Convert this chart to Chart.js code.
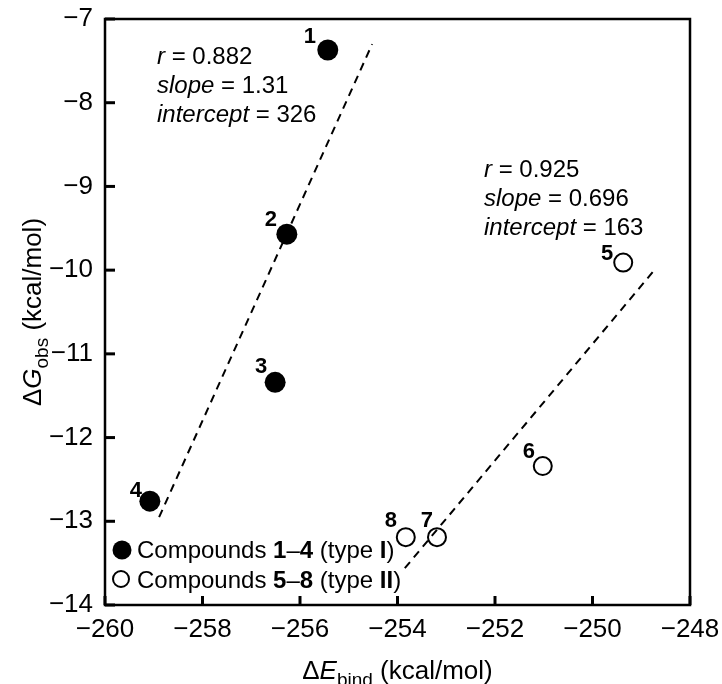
<!DOCTYPE html>
<html><head><meta charset="utf-8">
<script src="https://cdn.jsdelivr.net/npm/chart.js@4"></script>
<style>html,body{margin:0;padding:0;background:#fff}</style>
</head><body>
<canvas id="c" width="722" height="684"></canvas>
<script>
// ---- data ----
const typeI_x = [-255.43, -256.27, -256.51, -259.08];
const typeI_y = [-7.37, -9.57, -11.34, -12.76];
const typeI_labels = ['1', '2', '3', '4'];
const typeII_x = [-249.37, -251.02, -253.19, -253.83];
const typeII_y = [-9.91, -12.34, -13.19, -13.19];
const typeII_labels = ['5', '6', '7', '8'];
const fitI_x = [-258.89, -254.52];
const fitI_y = [-12.95, -7.30];
const fitII_x = [-253.85, -248.76];
const fitII_y = [-13.56, -10.02];
const xTicks = [-260, -258, -256, -254, -252, -250, -248];
const yTicks = [-14, -13, -12, -11, -10, -9, -8, -7];
const statsI = ['0.882', '1.31', '326'];
const statsII = ['0.925', '0.696', '163'];

// ---- styling (positions / offsets kept separate from data) ----
const FF = "'Liberation Sans', Arial, sans-serif";
const labelOffI = [[-18, -13], [-16, -14], [-14, -15], [-14, -10]];
const labelOffII = [[-16, -9], [-14, -14], [-10, -16], [-15, -16]];

const pts = (xs, ys) => xs.map((x, i) => ({ x: x, y: ys[i] }));
const minus = v => String(v).replace('-', '\u2212');

function drawRich(ctx, segs, x, y, align) {
  let total = 0;
  segs.forEach(s => { ctx.font = s.f; total += ctx.measureText(s.t).width; });
  let cx = align === 'center' ? x - total / 2 : x;
  ctx.textAlign = 'left';
  ctx.textBaseline = 'alphabetic';
  segs.forEach(s => {
    ctx.font = s.f;
    ctx.fillText(s.t, cx, y + (s.dy || 0));
    cx += ctx.measureText(s.t).width;
  });
}

const decor = {
  id: 'decor',
  afterDatasetsDraw(chart) {
    const ctx = chart.ctx;
    const a = chart.chartArea;
    const xs = chart.scales.x, ys = chart.scales.y;
    ctx.save();
    ctx.fillStyle = '#000';
    ctx.strokeStyle = '#000';

    // point labels
    ctx.font = 'bold 22px ' + FF;
    ctx.textAlign = 'center';
    ctx.textBaseline = 'middle';
    const m0 = chart.getDatasetMeta(2).data, m1 = chart.getDatasetMeta(3).data;
    m0.forEach((p, i) => ctx.fillText(typeI_labels[i], p.x + labelOffI[i][0], p.y + labelOffI[i][1]));
    m1.forEach((p, i) => ctx.fillText(typeII_labels[i], p.x + labelOffII[i][0], p.y + labelOffII[i][1]));

    // statistics annotations
    const R = '24px ' + FF, I = 'italic 24px ' + FF;
    const names = ['r', 'slope', 'intercept'];
    [[statsI, 157, 64], [statsII, 484, 177]].forEach(([st, x0, y0]) => {
      st.forEach((v, k) => drawRich(ctx, [{ t: names[k], f: I }, { t: ' = ' + v, f: R }], x0, y0 + k * 29, 'left'));
    });

    // legend
    const LR = '24px ' + FF, LB = 'bold 24px ' + FF;
    ctx.beginPath(); ctx.arc(a.left + 17, 550, 9.5, 0, Math.PI * 2); ctx.fill();
    ctx.lineWidth = 2;
    ctx.fillStyle = '#fff';
    ctx.beginPath(); ctx.arc(a.left + 16, 579, 8, 0, Math.PI * 2); ctx.fill(); ctx.stroke();
    ctx.fillStyle = '#000';
    drawRich(ctx, [{ t: 'Compounds ', f: LR }, { t: '1', f: LB }, { t: '\u2013', f: LR }, { t: '4', f: LB },
      { t: ' (type ', f: LR }, { t: 'I', f: LB }, { t: ')', f: LR }], a.left + 32, 558, 'left');
    drawRich(ctx, [{ t: 'Compounds ', f: LR }, { t: '5', f: LB }, { t: '\u2013', f: LR }, { t: '8', f: LB },
      { t: ' (type ', f: LR }, { t: 'II', f: LB }, { t: ')', f: LR }], a.left + 32, 588, 'left');

    // frame
    ctx.lineWidth = 2.5;
    ctx.strokeRect(a.left, a.top, a.right - a.left, a.bottom - a.top);
    // inward ticks
    ctx.lineWidth = 3;
    xTicks.forEach(v => {
      const px = xs.getPixelForValue(v);
      ctx.beginPath(); ctx.moveTo(px, a.bottom); ctx.lineTo(px, a.bottom - 9); ctx.stroke();
    });
    yTicks.forEach(v => {
      const py = ys.getPixelForValue(v);
      ctx.beginPath(); ctx.moveTo(a.left, py); ctx.lineTo(a.left + 10, py); ctx.stroke();
    });

    // axis titles
    const T = '26px ' + FF, TI = 'italic 26px ' + FF, TS = '19px ' + FF;
    drawRich(ctx, [{ t: '\u0394', f: T }, { t: 'E', f: TI }, { t: 'bind', f: TS, dy: 7 }, { t: ' (kcal/mol)', f: T }],
      (a.left + a.right) / 2, 679, 'center');
    ctx.translate(41, (a.top + a.bottom) / 2);
    ctx.rotate(-Math.PI / 2);
    drawRich(ctx, [{ t: '\u0394', f: T }, { t: 'G', f: TI }, { t: 'obs', f: TS, dy: 7 }, { t: ' (kcal/mol)', f: T }],
      0, 0, 'center');
    ctx.restore();
  }
};

function zeroPad(s) { s.paddingLeft = 0; s.paddingRight = 0; s.paddingTop = 0; s.paddingBottom = 0; }

new Chart(document.getElementById('c'), {
  type: 'scatter',
  data: {
    datasets: [
      { data: pts(fitI_x, fitI_y), showLine: true, borderColor: '#000', borderWidth: 2, borderDash: [8, 6], pointRadius: 0, fill: false },
      { data: pts(fitII_x, fitII_y), showLine: true, borderColor: '#000', borderWidth: 2, borderDash: [8, 6], pointRadius: 0, fill: false },
      { data: pts(typeI_x, typeI_y), pointRadius: 10.5, pointBackgroundColor: '#000', pointBorderColor: '#000', pointBorderWidth: 0 },
      { data: pts(typeII_x, typeII_y), pointRadius: 9, pointBackgroundColor: '#fff', pointBorderColor: '#000', pointBorderWidth: 2 }
    ]
  },
  options: {
    responsive: false,
    animation: false,
    events: [],
    layout: { padding: { left: 0, right: 32, top: 19, bottom: 0 } },
    plugins: { legend: { display: false }, tooltip: { enabled: false } },
    scales: {
      x: {
        type: 'linear', min: -260, max: -248,
        afterBuildTicks: s => { s.ticks = xTicks.map(v => ({ value: v })); },
        afterFit: s => { s.height = 79; zeroPad(s); },
        grid: { display: false, drawTicks: false },
        border: { display: false },
        ticks: { color: '#000', font: { family: FF, size: 26 }, padding: 9, maxRotation: 0, callback: v => minus(v) }
      },
      y: {
        type: 'linear', min: -14, max: -7,
        afterBuildTicks: s => { s.ticks = yTicks.map(v => ({ value: v })); },
        afterFit: s => { s.width = 105; zeroPad(s); },
        grid: { display: false, drawTicks: false },
        border: { display: false },
        ticks: { color: '#000', font: { family: FF, size: 26 }, padding: 12, callback: v => minus(v) }
      }
    }
  },
  plugins: [decor]
});
</script>
</body></html>
